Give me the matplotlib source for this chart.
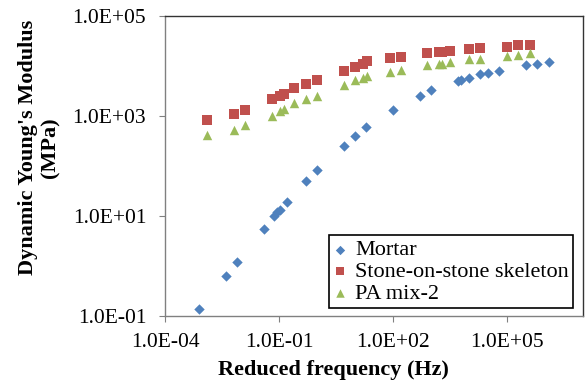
import matplotlib
matplotlib.use("Agg")
import matplotlib.pyplot as plt
from matplotlib.ticker import FixedLocator, FuncFormatter, NullLocator

# ---- data (Hz, MPa) ----
mortar_freq = [7.9e-4, 4.0e-3, 7.9e-3, 4.1e-2, 7.6e-2, 9.1e-2, 0.105, 0.158,
               0.50, 1.02, 5.0, 10.0, 19.5, 100.0, 513.0, 1000.0, 5129.0,
               6310.0, 10233.0, 19498.0, 31623.0, 61660.0, 309030.0,
               630957.0, 1258925.0]
mortar_mod = [0.138, 0.63, 1.23, 5.6, 10.2, 12.0, 12.9, 19.1, 49.0, 83.0,
              257.0, 398.0, 603.0, 1318.0, 2512.0, 3236.0, 5012.0, 5248.0,
              5754.0, 6761.0, 7244.0, 8128.0, 10233.0, 11220.0, 11749.0]

mix_freq = [1.29e-3, 6.5e-3, 1.29e-2, 6.5e-2, 0.105, 0.132, 0.251, 0.513,
            1.02, 5.1, 10.0, 16.2, 20.4, 81.0, 162.0, 794.0, 1622.0, 1995.0,
            3236.0, 10233.0, 19498.0, 97724.0, 194984.0, 398107.0]
stone_mod = [851.0, 1096.0, 1318.0, 2138.0, 2570.0, 2754.0, 3715.0, 4365.0,
             5129.0, 8128.0, 9772.0, 11220.0, 12303.0, 14791.0, 15488.0,
             17783.0, 18621.0, 18621.0, 20417.0, 22387.0, 23442.0, 24547.0,
             25704.0, 26915.0]
pa_mod = [417.0, 537.0, 646.0, 1023.0, 1288.0, 1349.0, 1862.0, 2138.0,
          2570.0, 4169.0, 5129.0, 5888.0, 6310.0, 7762.0, 8511.0, 10233.0,
          10965.0, 10965.0, 11749.0, 13804.0, 14125.0, 15849.0, 16982.0,
          17783.0]

x_ticks = [1e-4, 1e-1, 1e2, 1e5]
y_ticks = [1e-1, 1e1, 1e3, 1e5]

plt.rcParams["font.family"] = ["Liberation Serif", "DejaVu Serif"]

fig = plt.figure(figsize=(5.85, 3.82), dpi=100)
ax = fig.add_axes([165 / 585, 1 - 316 / 382, 418 / 585, 300 / 382])

ax.scatter(mortar_freq, mortar_mod, marker="D", s=28, color="#4F81BD",
           linewidths=0, label="Mortar", zorder=3)
ax.scatter(mix_freq, stone_mod, marker="s", s=42, color="#C0504D",
           linewidths=0, label="Stone-on-stone skeleton", zorder=3)
ax.scatter(mix_freq, pa_mod, marker="^", s=46, color="#9BBB59",
           linewidths=0, label="PA mix-2", zorder=3)

ax.set_xscale("log")
ax.set_yscale("log")
ax.set_xlim(1e-4, 1e7)
ax.set_ylim(1e-1, 1e5)
ax.xaxis.set_major_locator(FixedLocator(x_ticks))
ax.yaxis.set_major_locator(FixedLocator(y_ticks))
ax.xaxis.set_minor_locator(NullLocator())
ax.yaxis.set_minor_locator(NullLocator())
sci = FuncFormatter(lambda v, p: f"{v:.1E}")
ax.xaxis.set_major_formatter(sci)
ax.yaxis.set_major_formatter(sci)
ax.tick_params(axis="both", direction="out", length=4.5, width=0.8,
               color="#808080", labelsize=15.5)
ax.tick_params(axis="x", pad=8)
ax.tick_params(axis="y", pad=9)

# Excel look: grey axis lines, dark plot-area border
for side in ("left", "bottom"):
    ax.spines[side].set_color("#808080")
for side in ("top", "right"):
    ax.spines[side].set_color("#333333")
for sp in ax.spines.values():
    sp.set_linewidth(1.0)

ax.set_xlabel("Reduced frequency (Hz)", fontsize=16, fontweight="bold",
              va="center")
ax.xaxis.set_label_coords(0.404, -0.18)
ax.set_ylabel("Dynamic Young's Modulus\n(MPa)", fontsize=16,
              fontweight="bold", va="center", linespacing=1.15)
ax.yaxis.set_label_coords(-0.300, 0.562)

leg = ax.legend(loc="lower right", bbox_to_anchor=(0.977, 0.026),
                borderaxespad=0, fontsize=16, frameon=True, fancybox=False,
                edgecolor="black", framealpha=1, handlelength=0.6,
                handletextpad=0.4, labelspacing=0.05, borderpad=0.2,
                scatterpoints=1, markerscale=0.9)
leg.get_frame().set_linewidth(1.2)

fig.savefig("out.png", dpi=100)
